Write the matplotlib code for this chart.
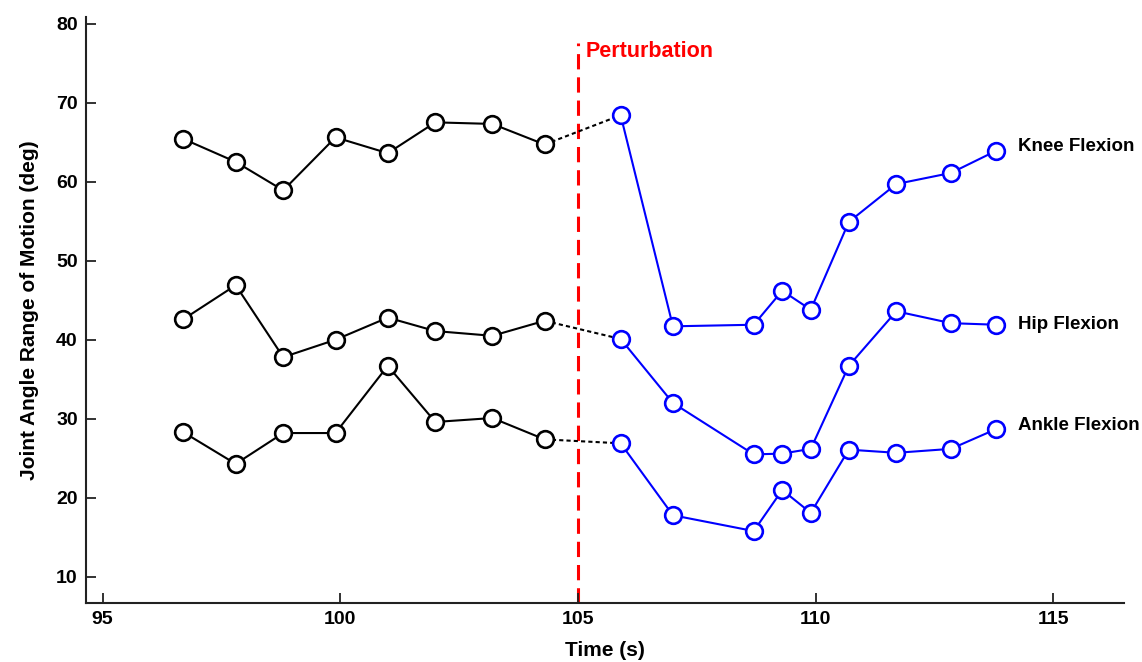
import numpy as np
import matplotlib
matplotlib.use("Agg")
import matplotlib.pyplot as plt

plt.rcParams['font.family'] = ['Liberation Sans', 'DejaVu Sans']
plt.rcParams['font.weight'] = 'bold'

# time stamps
t_pre = [96.7, 97.8, 98.8, 99.9, 101.0, 102.0, 103.2, 104.3]
t_post = [105.9, 107.0, 108.7, 109.3, 109.9, 110.7, 111.7, 112.85, 113.8]

# knee / hip / ankle range of motion (deg)
knee_pre = [65.4, 62.5, 58.9, 65.6, 63.6, 67.5, 67.3, 64.7]
knee_post = [68.4, 41.7, 41.9, 46.2, 43.8, 54.9, 59.7, 61.1, 63.9]
hip_pre = [42.6, 46.9, 37.8, 40.0, 42.8, 41.1, 40.5, 42.4]
hip_post = [40.1, 32.0, 25.5, 25.6, 26.2, 36.7, 43.6, 42.1, 41.9]
ankle_pre = [28.3, 24.3, 28.2, 28.2, 36.7, 29.6, 30.1, 27.4]
ankle_post = [26.9, 17.8, 15.8, 21.0, 18.1, 26.1, 25.7, 26.2, 28.7]

names = ["Knee Flexion", "Hip Flexion", "Ankle Flexion"]
label_y = [64.4, 41.9, 29.2]
pre = [knee_pre, hip_pre, ankle_pre]
post = [knee_post, hip_post, ankle_post]

fig = plt.figure(figsize=(11.42, 6.62), dpi=100)
ax = fig.add_axes([0.0753, 0.0891, 0.9089, 0.8849])

for p, q, name, ly in zip(pre, post, names, label_y):
    ax.plot(t_pre, p, color="black", lw=1.5, marker="o", ms=12,
            mfc="white", mec="black", mew=1.9, zorder=3)
    ax.plot([t_pre[-1], t_post[0]], [p[-1], q[0]], color="black", lw=1.5,
            ls=(0, (2, 1.5)), zorder=2)
    ax.plot(t_post, q, color="#0000ff", lw=1.5, marker="o", ms=12,
            mfc="white", mec="#0000ff", mew=1.9, zorder=3)
    ax.text(114.26, ly, name, fontsize=13.5, fontweight="bold", va="center", ha="left")

ylo = 6.7
ax.plot([105, 105], [ylo, 77.6], color="#ff0000", lw=2.2, ls=(0, (5, 2.6)), zorder=1)
ax.text(105.17, 76.4, "Perturbation", color="#ff0000", fontsize=15.5,
        fontweight="bold", va="center", ha="left")

ax.set_xlim(94.65, 116.49)
ax.set_ylim(ylo, 80.8)
ax.set_xticks([95, 100, 105, 110, 115])
ax.set_yticks([10, 20, 30, 40, 50, 60, 70, 80])
for s in ["top", "right"]:
    ax.spines[s].set_visible(False)
for s in ["left", "bottom"]:
    ax.spines[s].set_linewidth(1.5)
    ax.spines[s].set_color("#222222")
ax.tick_params(direction="in", length=7.5, width=1.3, color="#222222",
               labelsize=14, pad=6)
for lab in ax.get_xticklabels() + ax.get_yticklabels():
    lab.set_fontweight("bold")

ax.set_xlabel("Time (s)", fontsize=15, fontweight="bold", labelpad=9)
ax.set_ylabel("Joint Angle Range of Motion (deg)", fontsize=15, fontweight="bold", labelpad=12)

fig.savefig("out.png", dpi=100)
